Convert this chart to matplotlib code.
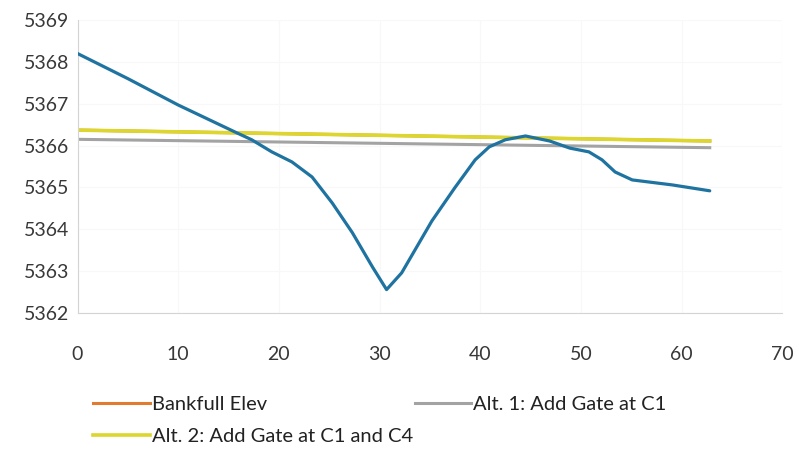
import matplotlib
matplotlib.use("Agg")
import matplotlib.pyplot as plt

# Channel profile (station vs. bed elevation)
station = [0, 5, 10, 15.6, 17.3, 19.3, 21.3, 23.3, 25.3, 27.3, 29.3, 30.7, 32.2,
           35.2, 37.5, 39.5, 40.9, 42.5, 44.5, 46.9, 48.9, 50.8, 52.1, 53.4,
           55.1, 59.1, 62.8]
bed_elev = [5368.2, 5367.6, 5366.97, 5366.33, 5366.14, 5365.85, 5365.61, 5365.25,
            5364.63, 5363.92, 5363.1, 5362.56, 5362.96, 5364.2, 5365.0, 5365.66,
            5365.97, 5366.14, 5366.23, 5366.11, 5365.94, 5365.85, 5365.66,
            5365.37, 5365.18, 5365.06, 5364.92]

# Water surface lines (start / end stations)
ws_station = [0, 62.8]
bankfull = [5366.37, 5366.11]
alt1 = [5366.15, 5365.95]
alt2 = [5366.37, 5366.11]

x_ticks = [0, 10, 20, 30, 40, 50, 60, 70]
y_ticks = [5362, 5363, 5364, 5365, 5366, 5367, 5368, 5369]

plt.rcParams["font.family"] = ["Lato", "DejaVu Sans"]

fig = plt.figure(figsize=(7.99, 4.55), dpi=100)
ax = fig.add_axes([0.097, 0.312, 0.882, 0.644])

ax.plot(station, bed_elev, color="#1f73a0", lw=2.3, zorder=3,
        solid_joinstyle="round", solid_capstyle="round", label="_profile")
h_bf, = ax.plot(ws_station, bankfull, color="#e07b30", lw=2.2, zorder=2,
                label="Bankfull Elev")
h_a1, = ax.plot(ws_station, alt1, color="#a3a3a3", lw=2.2, zorder=2,
                label="Alt. 1: Add Gate at C1")
h_a2, = ax.plot(ws_station, alt2, color="#dcd62e", lw=2.6, zorder=2.5,
                label="Alt. 2: Add Gate at C1 and C4")

ax.set_xlim(0, 70)
ax.set_ylim(5362, 5369)
ax.set_xticks(x_ticks)
ax.set_yticks(y_ticks)
ax.grid(True, color="#f8f8f8", lw=0.8)
ax.set_axisbelow(True)
for s in ["top", "right"]:
    ax.spines[s].set_visible(False)
for s in ["left", "bottom"]:
    ax.spines[s].set_color("#d4d4d4")
    ax.spines[s].set_linewidth(0.8)
ax.tick_params(length=0, labelsize=14, colors="#383838")
ax.tick_params(axis="x", pad=24)
ax.tick_params(axis="y", pad=6)

fig.legend(handles=[h_bf, h_a2, h_a1], loc="upper left",
           bbox_to_anchor=(0.104, 0.152), ncol=2, frameon=False,
           borderpad=0, fontsize=14.5, handlelength=2.8, handletextpad=0.1,
           columnspacing=0.1, labelspacing=0.75, labelcolor="#222222")

fig.savefig("out.png", dpi=100)
